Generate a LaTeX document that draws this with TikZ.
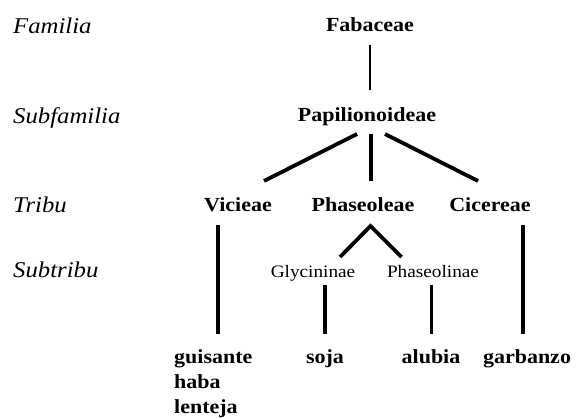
\documentclass[tikz,border=0pt]{standalone}
\usepackage{fontspec}
\setmainfont{Liberation Serif}[FakeStretch=1.1]
\begin{document}
\begin{tikzpicture}[x=1pt,y=-1pt,
  lvl/.style={font=\fontsize{22.5}{26}\selectfont\itshape, anchor=base west, inner sep=0pt},
  taxon/.style={font=\fontsize{20}{24}\selectfont\bfseries, anchor=base, inner sep=0pt},
  subtaxon/.style={font=\fontsize{17.5}{21}\selectfont, anchor=base, inner sep=0pt},
  thinline/.style={line width=1.5pt},
  thickline/.style={line width=3.8pt}]
\useasboundingbox (0,0) rectangle (585,419);
% rank labels
\node[lvl] (lfam) at (13,34) {Familia};
\node[lvl] (lsubfam) at (13,124) {Subfamilia};
\node[lvl] (ltri) at (13,213) {Tribu};
\node[lvl] (lsubtri) at (13,277) {Subtribu};
% taxa
\node[taxon] (fab) at (370,32) {Fabaceae};
\node[taxon] (pap) at (367,122) {Papilionoideae};
\node[taxon] (vic) at (238,212) {Vicieae};
\node[taxon] (pha) at (363,212) {Phaseoleae};
\node[taxon] (cic) at (490,212) {Cicereae};
\node[subtaxon] (gly) at (313,277) {Glycininae};
\node[subtaxon] (phl) at (433,277) {Phaseolinae};
\node[taxon, anchor=base west] (gui) at (174,363) {guisante};
\node[taxon, anchor=base west] (hab) at (174,388) {haba};
\node[taxon, anchor=base west] (len) at (174,413) {lenteja};
\node[taxon] (soj) at (325,363) {soja};
\node[taxon] (alu) at (431,363) {alubia};
\node[taxon] (gar) at (527,363) {garbanzo};
% connector end points
\coordinate (fabS) at (370,45);   \coordinate (papN) at (370,90);
\coordinate (papL) at (357,134);  \coordinate (vicN) at (264,181);
\coordinate (papM) at (371,134);  \coordinate (phaN) at (371,181);
\coordinate (papR) at (385,134);  \coordinate (cicN) at (478,181);
\coordinate (vicS) at (218,225);  \coordinate (guiN) at (218,334);
\coordinate (phaS) at (370.5,226);
\coordinate (glyN) at (340,257);  \coordinate (phlN) at (401.5,257);
\coordinate (glyS) at (325,285);  \coordinate (sojN) at (325,334);
\coordinate (phlS) at (431.5,285);\coordinate (aluN) at (431.5,334);
\coordinate (cicS) at (523,225);  \coordinate (garN) at (523,334);
% connectors
\draw[thinline] (fabS) -- (papN);
\draw[thickline] (papL) -- (vicN);
\draw[thickline] (papM) -- (phaN);
\draw[thickline] (papR) -- (cicN);
\draw[thickline] (vicS) -- (guiN);
\draw[thickline, line join=miter] (glyN) -- (phaS) -- (phlN);
\draw[thickline] (glyS) -- (sojN);
\draw[thickline] (phlS) -- (aluN);
\draw[thickline] (cicS) -- (garN);
\end{tikzpicture}
\end{document}
